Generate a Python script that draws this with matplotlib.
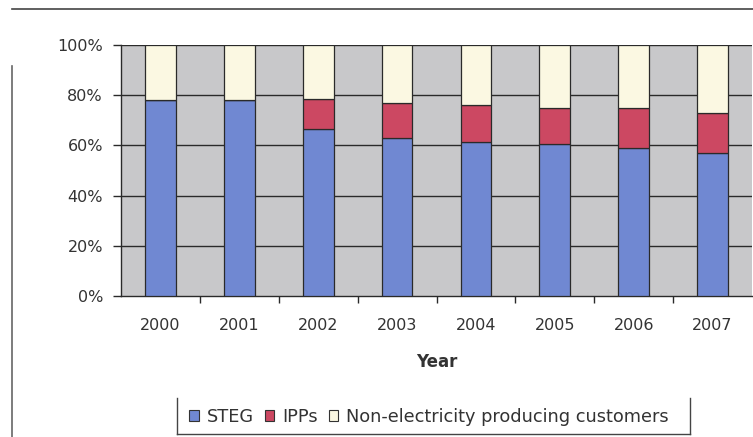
import matplotlib
matplotlib.use("Agg")
import matplotlib.pyplot as plt
from matplotlib.lines import Line2D
from matplotlib.patches import Patch
import numpy as np

years = ["2000", "2001", "2002", "2003", "2004", "2005", "2006", "2007"]
steg = [78.0, 78.0, 66.5, 63.0, 61.5, 60.5, 59.0, 57.0]
ipps = [0.0, 0.0, 12.0, 14.0, 14.5, 14.5, 16.0, 16.0]
others = [100.0 - s - i for s, i in zip(steg, ipps)]
series_names = ["STEG", "IPPs", "Non-electricity producing customers"]
series_colors = ["#7088D2", "#CC4862", "#FBF8E2"]
ytick_values = [0, 20, 40, 60, 80, 100]

plt.rcParams["font.family"] = ["DejaVu Sans"]
fig = plt.figure(figsize=(7.53, 4.37), dpi=100)
fig.patch.set_facecolor("white")
ax = fig.add_axes([121 / 753, 1 - 296 / 437, 631 / 753, 251 / 437])
ax.set_facecolor("#C8C8CA")

x = np.arange(len(years))
width = 0.39
bottom = np.zeros(len(years))
for vals, name, col in zip([steg, ipps, others], series_names, series_colors):
    vals = np.array(vals)
    ax.bar(x, vals, width, bottom=bottom, color=col, edgecolor="#2a2a2a",
           linewidth=0.9, label=name, zorder=3)
    bottom += vals

ax.set_xlim(-0.5, len(years) - 0.5)
ax.set_ylim(0, 100)
ax.set_yticks(ytick_values)
ax.set_yticklabels([f"{v}%" for v in ytick_values])
for v in ytick_values[1:]:
    ax.axhline(v, color="#2a2a2a", linewidth=1.0, zorder=1)

# category boundary ticks below the axis, labels at category centres
ax.set_xticks(np.arange(len(years) - 1) + 0.5)
ax.set_xticklabels([])
ax.tick_params(axis="x", which="major", length=5, width=1, direction="out", color="#2a2a2a")
ax.set_xticks(x, minor=True)
ax.set_xticklabels(years, minor=True)
ax.tick_params(axis="x", which="minor", length=0, pad=16, labelsize=11.5, labelcolor="#333333")
ax.tick_params(axis="y", length=6, width=1, direction="out", pad=7, labelsize=11.5,
               labelcolor="#333333", color="#2a2a2a")

for side in ["top", "right"]:
    ax.spines[side].set_visible(False)
for side in ["left", "bottom"]:
    ax.spines[side].set_color("#2a2a2a")
    ax.spines[side].set_linewidth(1.0)

fig.text(437 / 753, 1 - 362 / 437, "Year", ha="center", va="center",
         fontsize=12, fontweight="bold", color="#333333")

handles = [Patch(facecolor=c, edgecolor="#333333", linewidth=0.8) for c in series_colors]
leg = fig.legend(handles, series_names, loc="center", bbox_to_anchor=(429 / 753, 1 - 417 / 437),
                 ncol=3, frameon=False, fontsize=12.8, handlelength=0.55, handleheight=0.55,
                 handletextpad=0.45, columnspacing=0.6, borderpad=0.2)
for t in leg.get_texts():
    t.set_color("#333333")

# legend box edges
fig.add_artist(Line2D([177 / 753, 177 / 753], [1 - 398 / 437, 1 - 434 / 437], color="#444444", lw=1))
fig.add_artist(Line2D([690 / 753, 690 / 753], [1 - 398 / 437, 1 - 434 / 437], color="#444444", lw=1))
fig.add_artist(Line2D([177 / 753, 690 / 753], [1 - 434 / 437, 1 - 434 / 437], color="#444444", lw=1))

# outer chart frame
fig.add_artist(Line2D([12 / 753, 1.0], [1 - 9 / 437, 1 - 9 / 437], color="#444444", lw=1.2))
fig.add_artist(Line2D([12 / 753, 12 / 753], [1 - 66 / 437, 0.0], color="#666666", lw=1.2))

fig.savefig("out.png", dpi=100)
